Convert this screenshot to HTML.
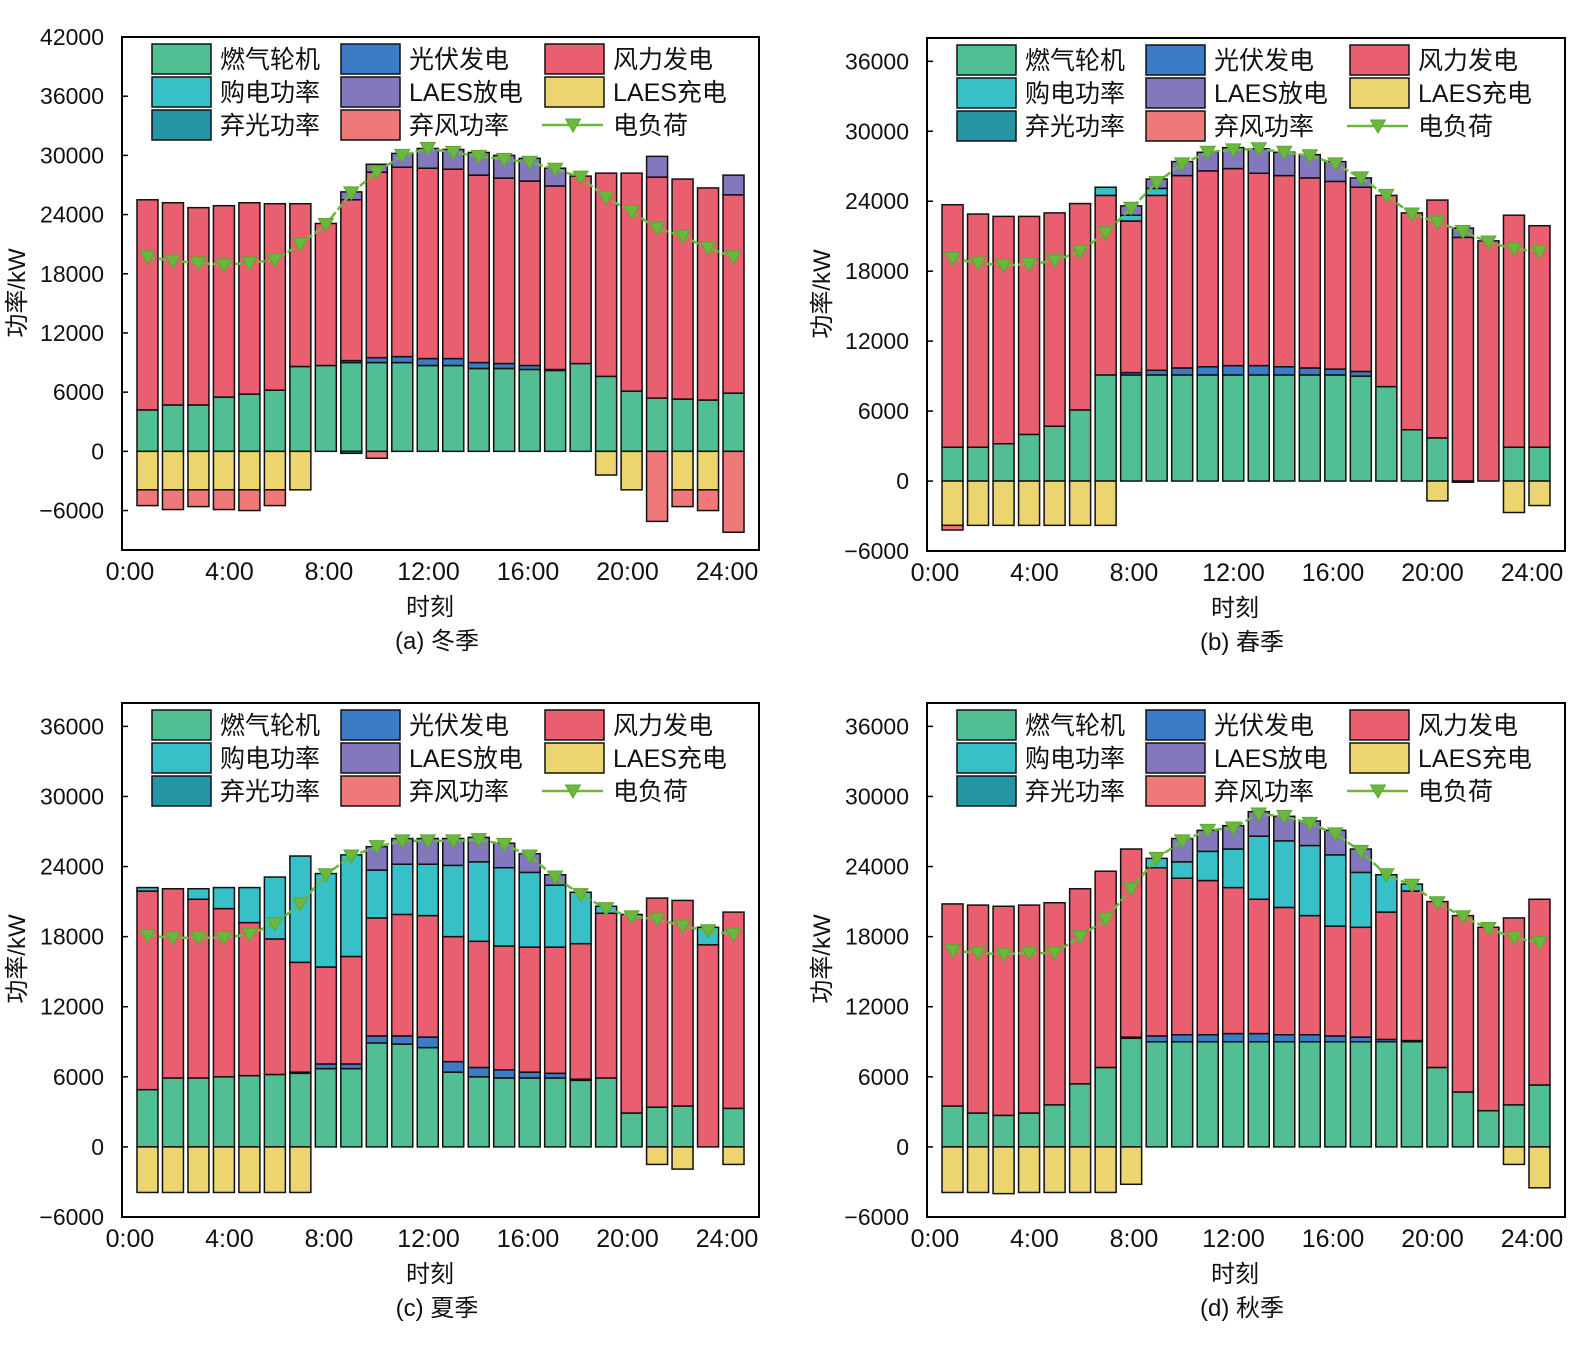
<!DOCTYPE html>
<html><head><meta charset="utf-8">
<style>
html,body{margin:0;padding:0;background:#fff;}
svg{display:block;font-family:"Liberation Sans","Noto Sans CJK SC",sans-serif;}
</style></head>
<body>
<svg id="chart" width="1584" height="1360" viewBox="0 0 1584 1360" xmlns="http://www.w3.org/2000/svg"></svg>
<script>
const hourIdx=[1,2,3,4,5,6,7,8,9,10,11,12,13,14,15,16,17,18,19,20,21,22,23,24];
const xTickLabels=["0:00","4:00","8:00","12:00","16:00","20:00","24:00"];
// Winter (a)
const gasA=[4200,4700,4700,5500,5800,6200,8600,8700,9000,9000,9000,8700,8700,8400,8400,8300,8200,8900,7600,6100,5400,5300,5200,5900];
const pvA=[0,0,0,0,0,0,0,0,200,500,600,700,700,600,500,400,100,0,0,0,0,0,0,0];
const windA=[21300,20500,20000,19400,19400,18900,16500,14400,16300,18800,19200,19300,19200,19000,18800,18700,18600,19000,20600,22100,22400,22300,21500,20100];
const buyA=[0,0,0,0,0,0,0,0,0,0,0,0,0,0,0,0,0,0,0,0,0,0,0,0];
const disA=[0,0,0,0,0,0,0,0,800,800,1400,2000,2000,2300,2300,2300,1800,0,0,0,2100,0,0,2000];
const chgA=[3900,3900,3900,3900,3900,3900,3900,0,0,0,0,0,0,0,0,0,0,0,2400,3900,0,3900,3900,0];
const cpvA=[0,0,0,0,0,0,0,0,200,0,0,0,0,0,0,0,0,0,0,0,0,0,0,0];
const cwA=[1600,2000,1700,2000,2100,1600,0,0,0,700,0,0,0,0,0,0,0,0,0,0,7100,1700,2100,8200];
const loadA=[19700,19300,19100,18900,19100,19400,21000,23000,26200,28300,30000,30700,30300,29900,29600,29300,28600,27800,25700,24300,22600,21800,20600,19700];
// Spring (b)
const gasB=[2900,2900,3200,4000,4700,6100,9100,9100,9100,9100,9100,9100,9100,9100,9100,9100,9000,8100,4400,3700,0,0,2900,2900];
const pvB=[0,0,0,0,0,0,0,200,400,600,700,800,800,700,600,500,400,0,0,0,0,0,0,0];
const windB=[20800,20000,19500,18700,18300,17700,15400,13000,15000,16500,16800,16900,16500,16400,16300,16100,15800,16400,18600,20400,20900,20600,19900,19000];
const buyB=[0,0,0,0,0,0,700,500,600,0,0,0,0,0,0,0,0,0,0,0,0,0,0,0];
const disB=[0,0,0,0,0,0,0,800,800,1200,1600,1800,2100,2000,2000,1700,800,0,0,0,800,0,0,0];
const chgB=[3800,3800,3800,3800,3800,3800,3800,0,0,0,0,0,0,0,0,0,0,0,0,1700,0,0,2700,2100];
const cpvB=[0,0,0,0,0,0,0,0,0,0,0,0,0,0,0,0,0,0,0,0,100,0,0,0];
const cwB=[400,0,0,0,0,0,0,0,0,0,0,0,0,0,0,0,0,0,0,0,0,0,0,0];
const loadB=[19100,18700,18500,18600,18900,19700,21300,23400,25600,27200,28200,28400,28500,28200,27900,27200,26000,24500,22900,22200,21400,20500,19900,19700];
// Summer (c)
const gasC=[4900,5900,5900,6000,6100,6200,6300,6700,6700,8900,8800,8500,6400,6000,5900,5900,5900,5700,5900,2900,3400,3500,0,3300];
const pvC=[0,0,0,0,0,0,100,400,400,600,700,900,900,800,700,500,400,100,0,0,0,0,0,0];
const windC=[17000,16200,15300,14400,13100,11600,9400,8300,9200,10100,10400,10400,10700,10800,10600,10700,10800,11600,14100,17000,17900,17600,17300,16800];
const buyC=[300,0,900,1800,3000,5300,9100,8000,8700,4100,4300,4400,6100,6800,6700,6400,5300,4400,600,0,0,0,1500,0];
const disC=[0,0,0,0,0,0,0,0,0,2000,2200,2200,2300,2100,2100,1600,900,0,0,0,0,0,0,0];
const chgC=[3900,3900,3900,3900,3900,3900,3900,0,0,0,0,0,0,0,0,0,0,0,0,0,1500,1900,0,1500];
const cpvC=[0,0,0,0,0,0,0,0,0,0,0,0,0,0,0,0,0,0,0,0,0,0,0,0];
const cwC=[0,0,0,0,0,0,0,0,0,0,0,0,0,0,0,0,0,0,0,0,0,0,0,0];
const loadC=[18100,17900,17900,17900,18200,19100,20800,23300,24900,25700,26200,26200,26200,26300,25900,24900,23100,21600,20400,19700,19500,18900,18500,18200];
// Autumn (d)
const gasD=[3500,2900,2700,2900,3600,5400,6800,9300,9000,9000,9000,9000,9000,9000,9000,9000,9000,9000,9000,6800,4700,3100,3600,5300];
const pvD=[0,0,0,0,0,0,0,100,500,600,600,700,700,600,600,500,400,200,100,0,0,0,0,0];
const windD=[17300,17800,17900,17800,17300,16700,16800,16100,14400,13400,13200,12500,11500,10900,10200,9400,9400,10900,12800,14200,15100,15700,16000,15900];
const buyD=[0,0,0,0,0,0,0,0,800,1400,2500,3300,5400,5700,6000,6100,4700,3200,600,0,0,0,0,0];
const disD=[0,0,0,0,0,0,0,0,0,2000,1800,2000,2100,2100,2100,2100,2000,0,0,0,0,0,0,0];
const chgD=[3900,3900,4000,3900,3900,3900,3900,3200,0,0,0,0,0,0,0,0,0,0,0,0,0,0,1500,3500];
const cpvD=[0,0,0,0,0,0,0,0,0,0,0,0,0,0,0,0,0,0,0,0,0,0,0,0];
const cwD=[0,0,0,0,0,0,0,0,0,0,0,0,0,0,0,0,0,0,0,0,0,0,0,0];
const loadD=[16800,16600,16500,16600,16600,18000,19500,22100,24700,26200,27100,27300,28500,28300,27700,26800,25300,23300,22400,20900,19700,18700,17900,17500];

const yTicksA=[42000,36000,30000,24000,18000,12000,6000,0,-6000];
const yTicksB=[36000,30000,24000,18000,12000,6000,0,-6000];

const COL={gas:"#52be93",pv:"#3a7cc6",wind:"#ea5f6f",buy:"#37c0c8",dis:"#8377bd",chg:"#ecd46e",cpv:"#2595a5",cw:"#ef7878",load:"#6ab83e"};
const NS="http://www.w3.org/2000/svg";
const svg=document.getElementById("chart");
function mk(tag,attrs,parent){const e=document.createElementNS(NS,tag);for(const k in attrs)e.setAttribute(k,attrs[k]);(parent||svg).appendChild(e);return e;}

const panels=[
 {key:"a",L:122,T:37,W:637,H:513,ymin:-10000,ymax:42000,ticks:yTicksA,cap:"(a) 冬季",d:[gasA,pvA,windA,buyA,disA,chgA,cpvA,cwA,loadA]},
 {key:"b",L:927,T:38,W:638,H:513,ymin:-6000,ymax:38000,ticks:yTicksB,cap:"(b) 春季",d:[gasB,pvB,windB,buyB,disB,chgB,cpvB,cwB,loadB]},
 {key:"c",L:122,T:703,W:637,H:514,ymin:-6000,ymax:38000,ticks:yTicksB,cap:"(c) 夏季",d:[gasC,pvC,windC,buyC,disC,chgC,cpvC,cwC,loadC]},
 {key:"d",L:927,T:703,W:638,H:514,ymin:-6000,ymax:38000,ticks:yTicksB,cap:"(d) 秋季",d:[gasD,pvD,windD,buyD,disD,chgD,cpvD,cwD,loadD]}
];

const legendItems=[
 ["燃气轮机","gas"],["光伏发电","pv"],["风力发电","wind"],
 ["购电功率","buy"],["LAES放电","dis"],["LAES充电","chg"],
 ["弃光功率","cpv"],["弃风功率","cw"],["电负荷","load"]
];

function tri(g,x,y,name){
  const p=mk("path",{d:`M${x-7.5},${y-6} L${x+7.5},${y-6} L${x},${y+7} Z`,fill:COL.load,stroke:"#5aa832","stroke-width":1},g);
  
  
}

panels.forEach(P=>{
  const g=mk("g",{});
  
  
  const ys=v=>P.T+P.H-(v-P.ymin)/(P.ymax-P.ymin)*P.H;
  const xs=h=>P.L+h*P.W/25;
  const bw=21;
  const [gas,pv,wind,buy,dis,chg,cpv,cw,load]=P.d;
  // bars
  hourIdx.forEach((h,i)=>{
    const cx=xs(h);
    let base=0;
    [[gas,"gas"],[pv,"pv"],[wind,"wind"],[buy,"buy"],[dis,"dis"]].forEach(([arr,k])=>{
      const v=arr[i]; if(v<=0)return;
      const r=mk("rect",{x:cx-bw/2,y:ys(base+v),width:bw,height:ys(base)-ys(base+v),fill:COL[k],stroke:"#111","stroke-width":1.5},g);
      
      
      base+=v;
    });
    let nb=0;
    [[chg,"chg"],[cpv,"cpv"],[cw,"cw"]].forEach(([arr,k])=>{
      const v=arr[i]; if(v<=0)return;
      const r=mk("rect",{x:cx-bw/2,y:ys(nb),width:bw,height:ys(nb-v)-ys(nb),fill:COL[k],stroke:"#111","stroke-width":1.5},g);
      
      
      nb-=v;
    });
  });
  // load line
  const pts=hourIdx.map((h,i)=>xs(h)+","+ys(load[i])).join(" ");
  const pl=mk("polyline",{points:pts,fill:"none",stroke:COL.load,"stroke-width":2.5,"stroke-dasharray":"8,3"},g);
  
  
  hourIdx.forEach((h,i)=>tri(g,xs(h),ys(load[i]),'load-marker-'+h));
  // frame
  const fr=mk("rect",{x:P.L,y:P.T,width:P.W,height:P.H,fill:"none",stroke:"#000","stroke-width":2},g);
  
  
  // y ticks
  P.ticks.forEach(t=>{
    const y=ys(t);
    const tk=mk("line",{x1:P.L,x2:P.L+6,y1:y,y2:y,stroke:"#000","stroke-width":1.5},g);
    
    
    const tx=mk("text",{x:P.L-18,y:y+8,"text-anchor":"end","font-size":23,fill:"#111"},g);
    tx.textContent=t<0?"\u2212"+Math.abs(t):String(t);
    
    
  });
  // x tick labels
  xTickLabels.forEach((lab,j)=>{
    const x=P.L+8+j*99.5;
    const tx=mk("text",{x:x,y:P.T+P.H+30,"text-anchor":"middle","font-size":25,fill:"#111"},g);
    tx.textContent=lab;
    
    
  });
  // axis titles
  const xt=mk("text",{x:P.L+308,y:P.T+P.H+65,"text-anchor":"middle","font-size":24,fill:"#111"},g);
  xt.textContent="时刻";
  
  
  const yy=P.T+256, yx=P.L-97;
  const yt=mk("text",{x:yx,y:yy,"text-anchor":"middle","font-size":24,fill:"#111",transform:`rotate(-90 ${yx} ${yy})`},g);
  yt.textContent="功率/kW";
  
  
  const cp=mk("text",{x:P.L+315,y:P.T+P.H+99,"text-anchor":"middle","font-size":24,fill:"#111"},g);
  cp.textContent=P.cap;
  
  
  // legend
  const colX=[30,219,423];
  legendItems.forEach((it,k)=>{
    const r=Math.floor(k/3), c=k%3;
    const px=P.L+colX[c], cy=P.T+22+r*33;
    if(it[1]==="load"){
      const ln=mk("line",{x1:px-3,x2:px+58,y1:cy,y2:cy,stroke:COL.load,"stroke-width":2.5},g);
      
      
      tri(g,px+28,cy,'legend-load-marker');
    } else {
      const sw=mk("rect",{x:px,y:cy-15,width:59,height:30,fill:COL[it[1]],stroke:"#111","stroke-width":1.5},g);
      
      
    }
    const lt=mk("text",{x:px+68,y:cy+9,"font-size":25,fill:"#111"},g);
    lt.textContent=it[0];
    
    
  });
});
</script>
</body></html>
